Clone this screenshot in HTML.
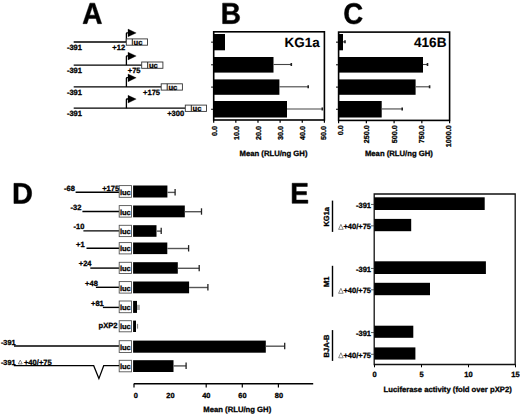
<!DOCTYPE html>
<html><head><meta charset="utf-8"><style>
html,body{margin:0;padding:0;background:#fff;width:520px;height:414px;overflow:hidden}
svg{display:block}
text{font-family:"Liberation Sans",sans-serif;font-weight:bold;fill:#000;text-rendering:geometricPrecision;stroke:#000;stroke-width:0.3px}
</style></head><body>
<svg width="520" height="414" viewBox="0 0 520 414">
<rect width="520" height="414" fill="#fff"/>
<path d="M97.68 23.65 95.97 18.41H88.67L86.96 23.65H82.95L89.95 3.15H94.68L101.65 23.65ZM92.31 6.31 92.23 6.63Q92.1 7.15 91.91 7.82Q91.71 8.49 89.56 15.18H95.08L93.18 9.29L92.6 7.31Z" fill="#000" stroke="#000" stroke-width="0.5"/>
<path d="M239.65 17.8Q239.65 20.59 237.69 22.12Q235.73 23.65 232.25 23.65H222.65V3.15H231.43Q234.94 3.15 236.74 4.45Q238.55 5.75 238.55 8.3Q238.55 10.05 237.64 11.25Q236.74 12.45 234.89 12.87Q237.21 13.16 238.43 14.43Q239.65 15.71 239.65 17.8ZM234.51 8.88Q234.51 7.5 233.68 6.92Q232.86 6.34 231.24 6.34H226.67V11.41H231.27Q232.97 11.41 233.74 10.78Q234.51 10.15 234.51 8.88ZM235.62 17.47Q235.62 14.59 231.76 14.59H226.67V20.46H231.91Q233.84 20.46 234.73 19.71Q235.62 18.97 235.62 17.47Z" fill="#000" stroke="#000" stroke-width="0.5"/>
<path d="M353.95 20.71Q357.52 20.71 358.91 16.84L362.35 18.24Q361.24 21.18 359.09 22.62Q356.95 24.05 353.95 24.05Q349.41 24.05 346.93 21.28Q344.45 18.5 344.45 13.51Q344.45 8.51 346.84 5.83Q349.24 3.15 353.78 3.15Q357.1 3.15 359.18 4.58Q361.27 6.02 362.11 8.8L358.63 9.82Q358.19 8.3 356.9 7.39Q355.61 6.49 353.86 6.49Q351.19 6.49 349.8 8.28Q348.42 10.07 348.42 13.51Q348.42 17.02 349.84 18.86Q351.27 20.71 353.95 20.71Z" fill="#000" stroke="#000" stroke-width="0.5"/>
<path d="M31.65 193.25Q31.65 196.36 30.45 198.68Q29.24 201 27.03 202.22Q24.83 203.45 21.98 203.45H13.95V183.35H21.14Q26.15 183.35 28.9 185.91Q31.65 188.47 31.65 193.25ZM27.46 193.25Q27.46 190.01 25.8 188.31Q24.14 186.6 21.05 186.6H18.11V200.2H21.63Q24.31 200.2 25.89 198.33Q27.46 196.46 27.46 193.25Z" fill="#000" stroke="#000" stroke-width="0.5"/>
<path d="M292.15 203.35V183.25H307.29V186.5H296.18V191.55H306.46V194.81H296.18V200.1H307.85V203.35Z" fill="#000" stroke="#000" stroke-width="0.5"/>
<line x1="73.7" y1="42.0" x2="126.3" y2="42.0" stroke="#000" stroke-width="1.3"/>
<path d="M126.4 42.0 V33.4 Q126.4 32.8 127.2 32.8 H128.4" fill="none" stroke="#000" stroke-width="1.3"/>
<path d="M128.0 29.1 L136.20000000000002 32.9 L128.0 36.8 Z" fill="#000" stroke="#000" stroke-width="0.3"/>
<rect x="126.3" y="38.9" width="21.2" height="6.3" fill="#fff" stroke="#333" stroke-width="0.9"/>
<line x1="132.3" y1="38.9" x2="132.3" y2="45.2" stroke="#222" stroke-width="1.0"/>
<text x="133.5" y="45.0" font-size="7.6" text-anchor="start" >uc</text>
<text x="66.9" y="50.1" font-size="7.5" text-anchor="start" >-391</text>
<text x="125.1" y="50.1" font-size="7.5" text-anchor="end" >+12</text>
<line x1="73.7" y1="65.1" x2="141.7" y2="65.1" stroke="#000" stroke-width="1.3"/>
<path d="M126.4 65.1 V56.49999999999999 Q126.4 55.89999999999999 127.2 55.89999999999999 H128.4" fill="none" stroke="#000" stroke-width="1.3"/>
<path d="M128.0 52.199999999999996 L136.20000000000002 55.99999999999999 L128.0 59.89999999999999 Z" fill="#000" stroke="#000" stroke-width="0.3"/>
<rect x="141.7" y="61.99999999999999" width="21.2" height="6.3" fill="#fff" stroke="#333" stroke-width="0.9"/>
<line x1="147.7" y1="61.99999999999999" x2="147.7" y2="68.3" stroke="#222" stroke-width="1.0"/>
<text x="148.89999999999998" y="68.1" font-size="7.6" text-anchor="start" >uc</text>
<text x="66.9" y="73.19999999999999" font-size="7.5" text-anchor="start" >-391</text>
<text x="140.5" y="73.19999999999999" font-size="7.5" text-anchor="end" >+75</text>
<line x1="73.7" y1="86.9" x2="161.2" y2="86.9" stroke="#000" stroke-width="1.3"/>
<path d="M126.4 86.9 V78.30000000000001 Q126.4 77.7 127.2 77.7 H128.4" fill="none" stroke="#000" stroke-width="1.3"/>
<path d="M128.0 74.0 L136.20000000000002 77.80000000000001 L128.0 81.7 Z" fill="#000" stroke="#000" stroke-width="0.3"/>
<rect x="161.2" y="83.80000000000001" width="21.2" height="6.3" fill="#fff" stroke="#333" stroke-width="0.9"/>
<line x1="167.2" y1="83.80000000000001" x2="167.2" y2="90.10000000000001" stroke="#222" stroke-width="1.0"/>
<text x="168.39999999999998" y="89.9" font-size="7.6" text-anchor="start" >uc</text>
<text x="66.9" y="95.0" font-size="7.5" text-anchor="start" >-391</text>
<text x="160.0" y="95.0" font-size="7.5" text-anchor="end" >+175</text>
<line x1="73.7" y1="108.2" x2="185.3" y2="108.2" stroke="#000" stroke-width="1.3"/>
<path d="M126.4 108.2 V99.60000000000001 Q126.4 99.0 127.2 99.0 H128.4" fill="none" stroke="#000" stroke-width="1.3"/>
<path d="M128.0 95.3 L136.20000000000002 99.10000000000001 L128.0 103.0 Z" fill="#000" stroke="#000" stroke-width="0.3"/>
<rect x="185.3" y="105.10000000000001" width="21.2" height="6.3" fill="#fff" stroke="#333" stroke-width="0.9"/>
<line x1="191.3" y1="105.10000000000001" x2="191.3" y2="111.4" stroke="#222" stroke-width="1.0"/>
<text x="192.5" y="111.2" font-size="7.6" text-anchor="start" >uc</text>
<text x="66.9" y="116.3" font-size="7.5" text-anchor="start" >-391</text>
<text x="184.10000000000002" y="116.3" font-size="7.5" text-anchor="end" >+300</text>
<rect x="213.7" y="31.8" width="110.69999999999999" height="88.2" fill="none" stroke="#000" stroke-width="1.6"/>
<rect x="213.7" y="34.0" width="11.300000000000011" height="16.299999999999997" fill="#000"/>
<line x1="211.1" y1="42.15" x2="213.7" y2="42.15" stroke="#000" stroke-width="1.0"/>
<rect x="213.7" y="57.0" width="59.80000000000001" height="15.599999999999994" fill="#000"/>
<line x1="211.1" y1="64.8" x2="213.7" y2="64.8" stroke="#000" stroke-width="1.0"/>
<line x1="273.5" y1="64.5" x2="291.3" y2="64.5" stroke="#444" stroke-width="1.1"/>
<line x1="291.3" y1="63.0" x2="291.3" y2="66.0" stroke="#222" stroke-width="1.6"/>
<rect x="213.7" y="79.4" width="65.69999999999999" height="15.399999999999991" fill="#000"/>
<line x1="211.1" y1="87.1" x2="213.7" y2="87.1" stroke="#000" stroke-width="1.0"/>
<line x1="279.4" y1="86.8" x2="308.2" y2="86.8" stroke="#444" stroke-width="1.1"/>
<line x1="308.2" y1="85.3" x2="308.2" y2="88.3" stroke="#222" stroke-width="1.6"/>
<rect x="213.7" y="101.0" width="73.30000000000001" height="16.5" fill="#000"/>
<line x1="211.1" y1="109.25" x2="213.7" y2="109.25" stroke="#000" stroke-width="1.0"/>
<line x1="287.0" y1="108.95" x2="322.3" y2="108.95" stroke="#444" stroke-width="1.1"/>
<line x1="322.3" y1="107.45" x2="322.3" y2="110.45" stroke="#222" stroke-width="1.6"/>
<line x1="213.7" y1="120.0" x2="213.7" y2="122.8" stroke="#000" stroke-width="1.2"/>
<text transform="translate(216.95000000000002,126.0) rotate(-90)" font-size="7.2" text-anchor="end" >0.0</text>
<line x1="235.83999999999997" y1="120.0" x2="235.83999999999997" y2="122.8" stroke="#000" stroke-width="1.2"/>
<text transform="translate(238.55,126.0) rotate(-90)" font-size="7.2" text-anchor="end" >10.0</text>
<line x1="257.97999999999996" y1="120.0" x2="257.97999999999996" y2="122.8" stroke="#000" stroke-width="1.2"/>
<text transform="translate(261.05,126.0) rotate(-90)" font-size="7.2" text-anchor="end" >20.0</text>
<line x1="280.12" y1="120.0" x2="280.12" y2="122.8" stroke="#000" stroke-width="1.2"/>
<text transform="translate(282.75,126.0) rotate(-90)" font-size="7.2" text-anchor="end" >30.0</text>
<line x1="302.26" y1="120.0" x2="302.26" y2="122.8" stroke="#000" stroke-width="1.2"/>
<text transform="translate(304.85,126.0) rotate(-90)" font-size="7.2" text-anchor="end" >40.0</text>
<line x1="324.4" y1="120.0" x2="324.4" y2="122.8" stroke="#000" stroke-width="1.2"/>
<text transform="translate(326.45,126.0) rotate(-90)" font-size="7.2" text-anchor="end" >50.0</text>
<text x="284.6" y="47.0" font-size="13.4" text-anchor="start" style="stroke-width:0.1px">KG1a</text>
<text x="273.5" y="155.6" font-size="7.7" text-anchor="middle" >Mean (RLU/ng GH)</text>
<rect x="338.6" y="32.1" width="111.0" height="88.30000000000001" fill="none" stroke="#000" stroke-width="1.6"/>
<rect x="338.6" y="34.0" width="4.399999999999977" height="16.299999999999997" fill="#000"/>
<line x1="336.0" y1="42.15" x2="338.6" y2="42.15" stroke="#000" stroke-width="1.0"/>
<line x1="343.0" y1="41.85" x2="345.0" y2="41.85" stroke="#444" stroke-width="1.1"/>
<line x1="345.0" y1="40.35" x2="345.0" y2="43.35" stroke="#222" stroke-width="1.6"/>
<rect x="338.6" y="57.0" width="84.39999999999998" height="15.599999999999994" fill="#000"/>
<line x1="336.0" y1="64.8" x2="338.6" y2="64.8" stroke="#000" stroke-width="1.0"/>
<line x1="423.0" y1="64.5" x2="427.5" y2="64.5" stroke="#444" stroke-width="1.1"/>
<line x1="427.5" y1="63.0" x2="427.5" y2="66.0" stroke="#222" stroke-width="1.6"/>
<rect x="338.6" y="79.4" width="77.0" height="15.399999999999991" fill="#000"/>
<line x1="336.0" y1="87.1" x2="338.6" y2="87.1" stroke="#000" stroke-width="1.0"/>
<line x1="415.6" y1="86.8" x2="429.6" y2="86.8" stroke="#444" stroke-width="1.1"/>
<line x1="429.6" y1="85.3" x2="429.6" y2="88.3" stroke="#222" stroke-width="1.6"/>
<rect x="338.6" y="101.0" width="43.099999999999966" height="16.5" fill="#000"/>
<line x1="336.0" y1="109.25" x2="338.6" y2="109.25" stroke="#000" stroke-width="1.0"/>
<line x1="381.7" y1="108.95" x2="402.2" y2="108.95" stroke="#444" stroke-width="1.1"/>
<line x1="402.2" y1="107.45" x2="402.2" y2="110.45" stroke="#222" stroke-width="1.6"/>
<line x1="338.6" y1="120.4" x2="338.6" y2="123.2" stroke="#000" stroke-width="1.2"/>
<text transform="translate(342.55,125.3) rotate(-90)" font-size="7.2" text-anchor="end" >0.0</text>
<line x1="366.35" y1="120.4" x2="366.35" y2="123.2" stroke="#000" stroke-width="1.2"/>
<text transform="translate(368.85,125.3) rotate(-90)" font-size="7.2" text-anchor="end" >250.0</text>
<line x1="394.1" y1="120.4" x2="394.1" y2="123.2" stroke="#000" stroke-width="1.2"/>
<text transform="translate(396.95,125.3) rotate(-90)" font-size="7.2" text-anchor="end" >500.0</text>
<line x1="421.85" y1="120.4" x2="421.85" y2="123.2" stroke="#000" stroke-width="1.2"/>
<text transform="translate(424.05,125.3) rotate(-90)" font-size="7.2" text-anchor="end" >750.0</text>
<line x1="449.6" y1="120.4" x2="449.6" y2="123.2" stroke="#000" stroke-width="1.2"/>
<text transform="translate(451.15000000000003,125.3) rotate(-90)" font-size="7.2" text-anchor="end" >1000.0</text>
<text x="414.0" y="46.8" font-size="13.6" text-anchor="start" style="stroke-width:0.1px">416B</text>
<text x="398.9" y="155.6" font-size="7.7" text-anchor="middle" >Mean (RLU/ng GH)</text>
<line x1="75.6" y1="192.2" x2="119.2" y2="192.2" stroke="#000" stroke-width="1.4"/>
<rect x="119.2" y="185.6" width="12.299999999999997" height="11.7" fill="#fff" stroke="#555" stroke-width="0.9"/>
<text x="119.9" y="194.7" font-size="7.5" text-anchor="start" >luc</text>
<rect x="133.1" y="185.5" width="34.30000000000001" height="12.0" fill="#000"/>
<line x1="167.4" y1="192.39999999999998" x2="175.1" y2="192.39999999999998" stroke="#555" stroke-width="1.4"/>
<line x1="175.1" y1="189.0" x2="175.1" y2="195.39999999999998" stroke="#222" stroke-width="1.3"/>
<text x="64.0" y="190.5" font-size="7.5" text-anchor="start" >-68</text>
<line x1="82.4" y1="211.5" x2="119.2" y2="211.5" stroke="#000" stroke-width="1.4"/>
<rect x="119.2" y="205.6" width="12.299999999999997" height="11.50000000000001" fill="#fff" stroke="#555" stroke-width="0.9"/>
<text x="119.9" y="214.5" font-size="7.5" text-anchor="start" >luc</text>
<rect x="133.1" y="205.5" width="51.70000000000002" height="11.800000000000011" fill="#000"/>
<line x1="184.8" y1="211.7" x2="201.5" y2="211.7" stroke="#555" stroke-width="1.4"/>
<line x1="201.5" y1="208.3" x2="201.5" y2="214.7" stroke="#222" stroke-width="1.3"/>
<text x="70.5" y="209.8" font-size="7.5" text-anchor="start" >-32</text>
<line x1="83.4" y1="230.9" x2="119.2" y2="230.9" stroke="#000" stroke-width="1.4"/>
<rect x="119.2" y="225.3" width="12.299999999999997" height="11.299999999999994" fill="#fff" stroke="#555" stroke-width="0.9"/>
<text x="119.9" y="234.0" font-size="7.5" text-anchor="start" >luc</text>
<rect x="133.1" y="225.20000000000002" width="23.400000000000006" height="11.599999999999994" fill="#000"/>
<line x1="156.5" y1="231.1" x2="161.2" y2="231.1" stroke="#555" stroke-width="1.4"/>
<line x1="161.2" y1="227.70000000000002" x2="161.2" y2="234.1" stroke="#222" stroke-width="1.3"/>
<text x="73.5" y="229.20000000000002" font-size="7.5" text-anchor="start" >-10</text>
<line x1="86.5" y1="248.3" x2="119.2" y2="248.3" stroke="#000" stroke-width="1.4"/>
<rect x="119.2" y="242.6" width="12.299999999999997" height="11.300000000000022" fill="#fff" stroke="#555" stroke-width="0.9"/>
<text x="119.9" y="251.3" font-size="7.5" text-anchor="start" >luc</text>
<rect x="133.1" y="242.5" width="34.20000000000002" height="11.600000000000023" fill="#000"/>
<line x1="167.3" y1="248.5" x2="188.6" y2="248.5" stroke="#555" stroke-width="1.4"/>
<line x1="188.6" y1="245.10000000000002" x2="188.6" y2="251.5" stroke="#222" stroke-width="1.3"/>
<text x="76.0" y="246.60000000000002" font-size="7.5" text-anchor="start" >+1</text>
<line x1="90.3" y1="268.1" x2="119.2" y2="268.1" stroke="#000" stroke-width="1.4"/>
<rect x="119.2" y="262.29999999999995" width="12.299999999999997" height="11.2" fill="#fff" stroke="#555" stroke-width="0.9"/>
<text x="119.9" y="270.9" font-size="7.5" text-anchor="start" >luc</text>
<rect x="133.1" y="262.2" width="44.70000000000002" height="11.5" fill="#000"/>
<line x1="177.8" y1="268.3" x2="199.2" y2="268.3" stroke="#555" stroke-width="1.4"/>
<line x1="199.2" y1="264.90000000000003" x2="199.2" y2="271.3" stroke="#222" stroke-width="1.3"/>
<text x="78.8" y="266.40000000000003" font-size="7.5" text-anchor="start" >+24</text>
<line x1="95.9" y1="287.3" x2="119.2" y2="287.3" stroke="#000" stroke-width="1.4"/>
<rect x="119.2" y="281.59999999999997" width="12.299999999999997" height="11.50000000000001" fill="#fff" stroke="#555" stroke-width="0.9"/>
<text x="119.9" y="290.5" font-size="7.5" text-anchor="start" >luc</text>
<rect x="133.1" y="281.5" width="56.0" height="11.800000000000011" fill="#000"/>
<line x1="189.1" y1="287.5" x2="207.9" y2="287.5" stroke="#555" stroke-width="1.4"/>
<line x1="207.9" y1="284.1" x2="207.9" y2="290.5" stroke="#222" stroke-width="1.3"/>
<text x="85.10000000000001" y="285.6" font-size="7.5" text-anchor="start" >+48</text>
<line x1="102.9" y1="307.4" x2="119.2" y2="307.4" stroke="#000" stroke-width="1.4"/>
<rect x="119.2" y="301.0" width="12.299999999999997" height="11.7" fill="#fff" stroke="#555" stroke-width="0.9"/>
<text x="119.9" y="310.1" font-size="7.5" text-anchor="start" >luc</text>
<rect x="133.1" y="300.90000000000003" width="3.9000000000000057" height="12.0" fill="#000"/>
<rect x="137.0" y="304.79999999999995" width="2.9" height="5.2" fill="#aaa"/>
<text x="91.0" y="305.7" font-size="7.5" text-anchor="start" >+81</text>
<rect x="119.2" y="320.7" width="12.299999999999997" height="11.099999999999977" fill="#fff" stroke="#555" stroke-width="0.9"/>
<text x="119.9" y="329.2" font-size="7.5" text-anchor="start" >luc</text>
<rect x="133.1" y="320.6" width="2.9000000000000057" height="11.399999999999977" fill="#000"/>
<rect x="136.9" y="323.85" width="1.2" height="4.8" fill="#888"/>
<line x1="14.0" y1="346.0" x2="119.2" y2="346.0" stroke="#000" stroke-width="1.4"/>
<rect x="119.2" y="340.7" width="12.299999999999997" height="11.799999999999965" fill="#fff" stroke="#555" stroke-width="0.9"/>
<text x="119.9" y="349.9" font-size="7.5" text-anchor="start" >luc</text>
<rect x="133.1" y="340.6" width="132.70000000000002" height="12.099999999999966" fill="#000"/>
<line x1="265.8" y1="346.2" x2="284.7" y2="346.2" stroke="#555" stroke-width="1.4"/>
<line x1="284.7" y1="342.8" x2="284.7" y2="349.2" stroke="#222" stroke-width="1.3"/>
<rect x="119.2" y="360.29999999999995" width="12.299999999999997" height="11.50000000000001" fill="#fff" stroke="#555" stroke-width="0.9"/>
<text x="119.9" y="369.2" font-size="7.5" text-anchor="start" >luc</text>
<rect x="133.1" y="360.2" width="40.400000000000006" height="11.800000000000011" fill="#000"/>
<line x1="173.5" y1="365.9" x2="186.1" y2="365.9" stroke="#555" stroke-width="1.4"/>
<line x1="186.1" y1="362.5" x2="186.1" y2="368.9" stroke="#222" stroke-width="1.3"/>
<text x="102.2" y="190.5" font-size="7.5" text-anchor="start" >+175</text>
<text x="98.6" y="327.8" font-size="7.6" text-anchor="start" >pXP2</text>
<text x="0.9" y="344.5" font-size="7.3" text-anchor="start" >-391</text>
<path d="M13.8 365.7 H93.7 L98.9 378.6 L103.7 365.7 H119.2" fill="none" stroke="#000" stroke-width="1.25"/>
<text x="0.9" y="364.5" font-size="7.3" text-anchor="start" >-391</text>
<path d="M18.3 363.9 L20.25 360.1 L22.2 363.9 Z" fill="none" stroke="#555" stroke-width="0.7"/>
<text x="23.9" y="364.5" font-size="7.6" text-anchor="start" >+40/+75</text>
<line x1="133.8" y1="383.8" x2="313.2" y2="383.8" stroke="#000" stroke-width="1.5"/>
<line x1="134.0" y1="383.8" x2="134.0" y2="387.6" stroke="#000" stroke-width="1.2"/>
<line x1="206.2" y1="383.8" x2="206.2" y2="387.6" stroke="#000" stroke-width="1.2"/>
<line x1="242.3" y1="383.8" x2="242.3" y2="387.6" stroke="#000" stroke-width="1.2"/>
<line x1="278.4" y1="383.8" x2="278.4" y2="387.6" stroke="#000" stroke-width="1.2"/>
<text x="135.8" y="398.0" font-size="7.4" text-anchor="middle" >0</text>
<text x="170.4" y="398.0" font-size="7.4" text-anchor="middle" >20</text>
<text x="206.3" y="398.0" font-size="7.4" text-anchor="middle" >40</text>
<text x="242.4" y="398.0" font-size="7.4" text-anchor="middle" >60</text>
<text x="278.9" y="398.0" font-size="7.4" text-anchor="middle" >80</text>
<text x="237.25" y="411.5" font-size="7.7" text-anchor="middle" >Mean (RLU/ng GH)</text>
<path d="M374.2 364.5 V194.0 H515.2 V364.5 Z" fill="none" stroke="#111" stroke-width="1.3"/>
<rect x="374.2" y="197.3" width="110.5" height="12.699999999999989" fill="#000"/>
<line x1="371.0" y1="204.45000000000002" x2="374.2" y2="204.45000000000002" stroke="#333" stroke-width="0.8"/>
<text x="371.0" y="208.05" font-size="7.5" text-anchor="end" >-391</text>
<rect x="374.2" y="218.9" width="37.0" height="12.299999999999983" fill="#000"/>
<line x1="371.0" y1="225.85000000000002" x2="374.2" y2="225.85000000000002" stroke="#333" stroke-width="0.8"/>
<text x="371.0" y="229.45000000000002" font-size="7.5" text-anchor="end" >+40/+75</text>
<path d="M338.6 229.35000000000002 L340.9 224.35000000000002 L343.2 229.35000000000002 Z" fill="none" stroke="#555" stroke-width="0.7"/>
<rect x="374.2" y="261.3" width="111.69999999999999" height="12.699999999999989" fill="#000"/>
<line x1="371.0" y1="268.45" x2="374.2" y2="268.45" stroke="#333" stroke-width="0.8"/>
<text x="371.0" y="272.04999999999995" font-size="7.5" text-anchor="end" >-391</text>
<rect x="374.2" y="282.8" width="55.80000000000001" height="12.399999999999977" fill="#000"/>
<line x1="371.0" y1="289.8" x2="374.2" y2="289.8" stroke="#333" stroke-width="0.8"/>
<text x="371.0" y="293.4" font-size="7.5" text-anchor="end" >+40/+75</text>
<path d="M338.6 293.3 L340.9 288.3 L343.2 293.3 Z" fill="none" stroke="#555" stroke-width="0.7"/>
<rect x="374.2" y="325.7" width="39.10000000000002" height="12.100000000000023" fill="#000"/>
<line x1="371.0" y1="332.55" x2="374.2" y2="332.55" stroke="#333" stroke-width="0.8"/>
<text x="371.0" y="336.15" font-size="7.5" text-anchor="end" >-391</text>
<rect x="374.2" y="347.4" width="41.19999999999999" height="12.200000000000045" fill="#000"/>
<line x1="371.0" y1="354.3" x2="374.2" y2="354.3" stroke="#333" stroke-width="0.8"/>
<text x="371.0" y="357.9" font-size="7.5" text-anchor="end" >+40/+75</text>
<path d="M338.6 357.8 L340.9 352.8 L343.2 357.8 Z" fill="none" stroke="#555" stroke-width="0.7"/>
<line x1="332.5" y1="200.6" x2="332.5" y2="231.9" stroke="#000" stroke-width="1.4"/>
<text transform="translate(328.7,216.75) rotate(-90)" font-size="7.5" text-anchor="middle" >KG1a</text>
<line x1="332.5" y1="265.8" x2="332.5" y2="296.7" stroke="#000" stroke-width="1.4"/>
<text transform="translate(328.7,281.75) rotate(-90)" font-size="7.5" text-anchor="middle" >M1</text>
<line x1="332.5" y1="330.1" x2="332.5" y2="360.9" stroke="#000" stroke-width="1.4"/>
<text transform="translate(328.7,346.0) rotate(-90)" font-size="7.5" text-anchor="middle" >BJA-B</text>
<line x1="374.5" y1="364.5" x2="374.5" y2="367.3" stroke="#000" stroke-width="1.0"/>
<text x="374.5" y="376.5" font-size="7.5" text-anchor="middle" >0</text>
<line x1="421.5" y1="364.5" x2="421.5" y2="367.3" stroke="#000" stroke-width="1.0"/>
<text x="421.5" y="376.5" font-size="7.5" text-anchor="middle" >5</text>
<line x1="468.5" y1="364.5" x2="468.5" y2="367.3" stroke="#000" stroke-width="1.0"/>
<text x="468.5" y="376.5" font-size="7.5" text-anchor="middle" >10</text>
<line x1="515.5" y1="364.5" x2="515.5" y2="367.3" stroke="#000" stroke-width="1.0"/>
<text x="515.5" y="376.5" font-size="7.5" text-anchor="middle" >15</text>
<text x="447.7" y="392.0" font-size="7.7" text-anchor="middle" >Luciferase activity (fold over pXP2)</text>
</svg>
</body></html>
